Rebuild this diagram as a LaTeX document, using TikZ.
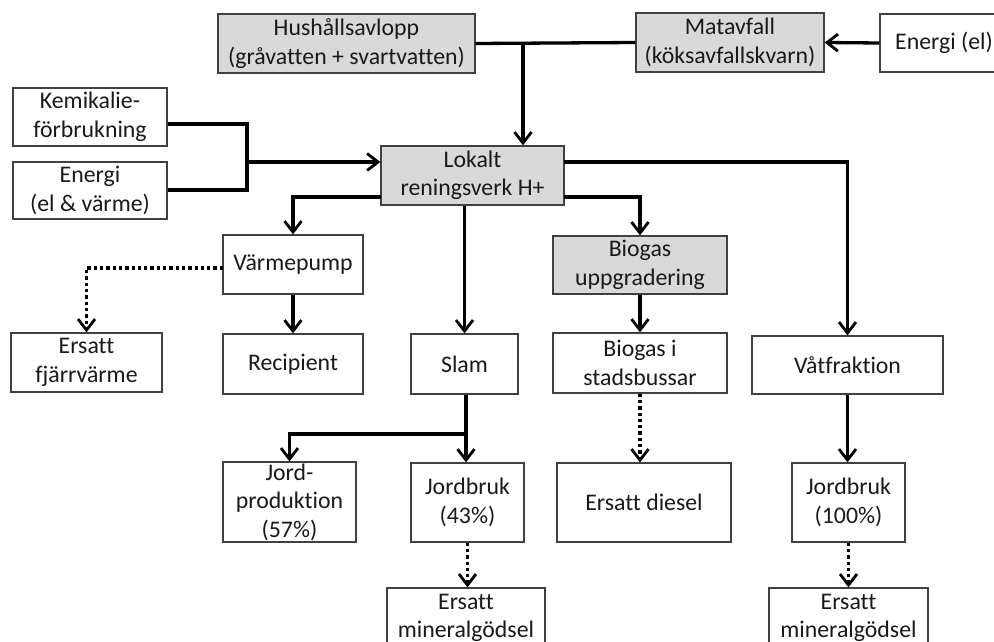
\documentclass[tikz,border=0pt]{standalone}
\usepackage{fontspec}
\setmainfont[Ligatures={NoCommon}]{Carlito}
\usetikzlibrary{arrows.meta}
\definecolor{boxfill}{RGB}{217,217,217}
\definecolor{txt}{RGB}{25,25,25}
\definecolor{edge}{RGB}{64,64,64}
\begin{document}
\begin{tikzpicture}[x=1pt,y=-1pt,
  box/.style={draw=edge,line width=1.3pt,fill=white,inner sep=0pt,align=center,
    text=txt,font=\fontsize{23.8}{28.5}\selectfont},
  gbox/.style={box,fill=boxfill},
  conn/.style={line width=3.3pt,black},
  arr/.style={conn,-{Straight Barb[length=11pt,width=17pt,line width=2.8pt]}},
  dotarr/.style={arr,dash pattern=on 3.3pt off 3pt}]
\useasboundingbox (0,0) rectangle (994,642);
\clip (0,0) rectangle (994,642);
\fill[white] (0,0) rectangle (994,642);
% nodes
\node[gbox,minimum width=257pt,minimum height=59pt] (hush) at (346.5,43.5) {Hushållsavlopp\\(gråvatten + svartvatten)};
\node[gbox,minimum width=188pt,minimum height=59pt] (mat) at (730,42.5) {Matavfall\\(köksavfallskvarn)};
\node[box,minimum width=128pt,minimum height=58pt] (enel) at (944,43) {Energi (el)};
\node[box,minimum width=154pt,minimum height=58pt] (kem) at (90,117) {Kemikalie-\\förbrukning};
\node[box,minimum width=154pt,minimum height=57pt] (en2) at (90,190.5) {Energi\\(el \& värme)};
\node[gbox,minimum width=183pt,minimum height=59pt] (lok) at (472.5,175.5) {Lokalt\\reningsverk H+};
\node[box,minimum width=140pt,minimum height=59pt] (varme) at (293,264.5) {Värmepump};
\node[gbox,minimum width=174pt,minimum height=58pt] (bgu) at (640,265) {Biogas\\uppgradering};
\node[box,minimum width=151pt,minimum height=59pt] (fjarr) at (86.5,362.5) {Ersatt\\fjärrvärme};
\node[box,minimum width=140pt,minimum height=60pt] (recip) at (293,364) {Recipient};
\node[box,minimum width=107pt,minimum height=60pt] (slam) at (464.5,364) {Slam};
\node[box,minimum width=174pt,minimum height=60pt] (buss) at (640,363) {Biogas i\\stadsbussar};
\node[box,minimum width=191pt,minimum height=58pt] (vat) at (847.5,365) {Våtfraktion};
\node[box,minimum width=133pt,minimum height=80pt] (jprod) at (289.5,502) {Jord-\\produktion\\(57\%)};
\node[box,minimum width=113pt,minimum height=79pt] (jb43) at (467.5,502.5) {Jordbruk\\(43\%)};
\node[box,minimum width=174pt,minimum height=79pt] (diesel) at (644,502.5) {Ersatt diesel};
\node[box,minimum width=113pt,minimum height=79pt] (jb100) at (848.5,502.5) {Jordbruk\\(100\%)};
\node[box,minimum width=158pt,minimum height=60pt] (min1) at (466,618) {Ersatt\\mineralgödsel};
\node[box,minimum width=159pt,minimum height=60pt] (min2) at (848.5,618) {Ersatt\\mineralgödsel};
% junction coordinates
\coordinate (jtop) at (523,42.5);
\coordinate (jk1) at (247,124);
\coordinate (jk2) at (247,190);
\coordinate (jkm) at (247,162);
\coordinate (jr1) at (564,162);
\coordinate (jr2) at (564,197);
\coordinate (jl) at (381,197);
\coordinate (jv) at (223,268);
\coordinate (js) at (466,434);
% connectors
\draw[conn] (hush.east) -- (mat.west);
\draw[arr] (jtop) -- (jtop |- lok.north);
\draw[arr] (enel.west) -- (mat.east);
\draw[conn] (kem.east |- jk1) -- (jk1) -- (jk2) -- (en2.east |- jk2);
\draw[arr] (jkm) -- (lok.west |- jkm);
\draw[arr] (jr1) -| (vat.north);
\draw[arr] (jr2) -| (bgu.north);
\draw[arr] (jl) -| (varme.north);
\draw[arr] (slam.north |- lok.south) -- (slam.north);
\draw[arr] (varme.south) -- (recip.north);
\draw[dotarr] (jv) -| (fjarr.north);
\draw[arr] (bgu.south) -- (buss.north);
\draw[arr] (slam.south -| js) -- (js |- jb43.north);
\draw[arr] (js) -| (jprod.north);
\draw[dotarr] (buss.south) -- (buss.south |- diesel.north);
\draw[arr] (vat.south) -- (vat.south |- jb100.north);
\draw[dotarr] (jb43.south) -- (jb43.south |- min1.north);
\draw[dotarr] (jb100.south) -- (jb100.south |- min2.north);
\end{tikzpicture}
\end{document}
